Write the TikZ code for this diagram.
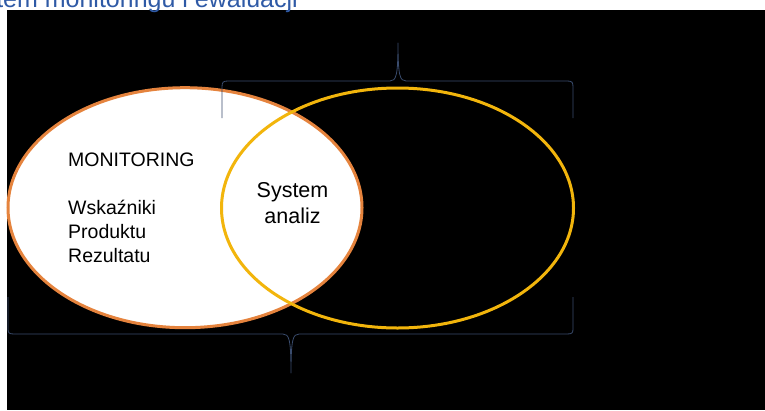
\documentclass[tikz,border=0pt]{standalone}
\usepackage{fontspec}
\setmainfont{Liberation Sans}
\usetikzlibrary{shapes.geometric}
\definecolor{evorange}{HTML}{E5833D}
\definecolor{evyellow}{HTML}{F2B50C}
\definecolor{evbrace}{HTML}{3A4C6E}
\definecolor{evblue}{HTML}{2F5AA6}

\begin{document}
\begin{tikzpicture}[x=1pt,y=-1pt,
  kolo/.style={ellipse,line width=3pt,minimum width=354pt,minimum height=240pt,inner sep=0pt},
  napis/.style={font=\fontsize{19.5}{23.7}\selectfont,align=left,inner sep=0pt,text=black},
  duzy/.style={font=\fontsize{21.5}{25.6}\selectfont,align=center,inner sep=0pt,text=black},
  klamra/.style={draw=evbrace,line width=0.8pt,line join=round}]
% tlo
\useasboundingbox (0,0) rectangle (765,410);
\clip (0,0) rectangle (765,410);
\fill[white] (0,0) rectangle (765,410);
\fill[black] (6.5,10) rectangle (765,410);
% tytul (uciety u gory)
\node[font=\fontsize{25}{29}\selectfont,text=evblue,anchor=base east,inner sep=0pt] (tytul) at (298,7) {System monitoringu i ewaluacji};
% kola
\node[kolo,draw=evorange,fill=white] (monit) at (185,207.7) {};
\node[kolo,draw=evyellow,minimum width=352pt] (ewal) at (397.5,208) {};
% teksty (base = ostatnia linia)
\node[napis,anchor=base west] (mon) at (68,166.7) {MONITORING};
\node[napis,anchor=base west] (wsk) at (68,262.3) {Wskaźniki\\Produktu\\Rezultatu};
\node[duzy,anchor=base] (sys) at (292.5,223.3) {System\\analiz};
% klamry
\draw[klamra] (222,118) -- (222,87) .. controls (222,82) and (223,81) .. (228,81)
  -- (390,81) .. controls (396,81) and (398,76) .. (398,43)
  .. controls (398,76) and (400,81) .. (406,81) -- (567,81)
  .. controls (572,81) and (573,82) .. (573,87) -- (573,118);
\draw[klamra] (8,297) -- (8,329) .. controls (8,333) and (9,334) .. (14,334)
  -- (283,334) .. controls (289,334) and (291,339) .. (291,373)
  .. controls (291,339) and (293,334) .. (299,334) -- (567,334)
  .. controls (572,334) and (573,333) .. (573,329) -- (573,297);
\end{tikzpicture}
\end{document}
